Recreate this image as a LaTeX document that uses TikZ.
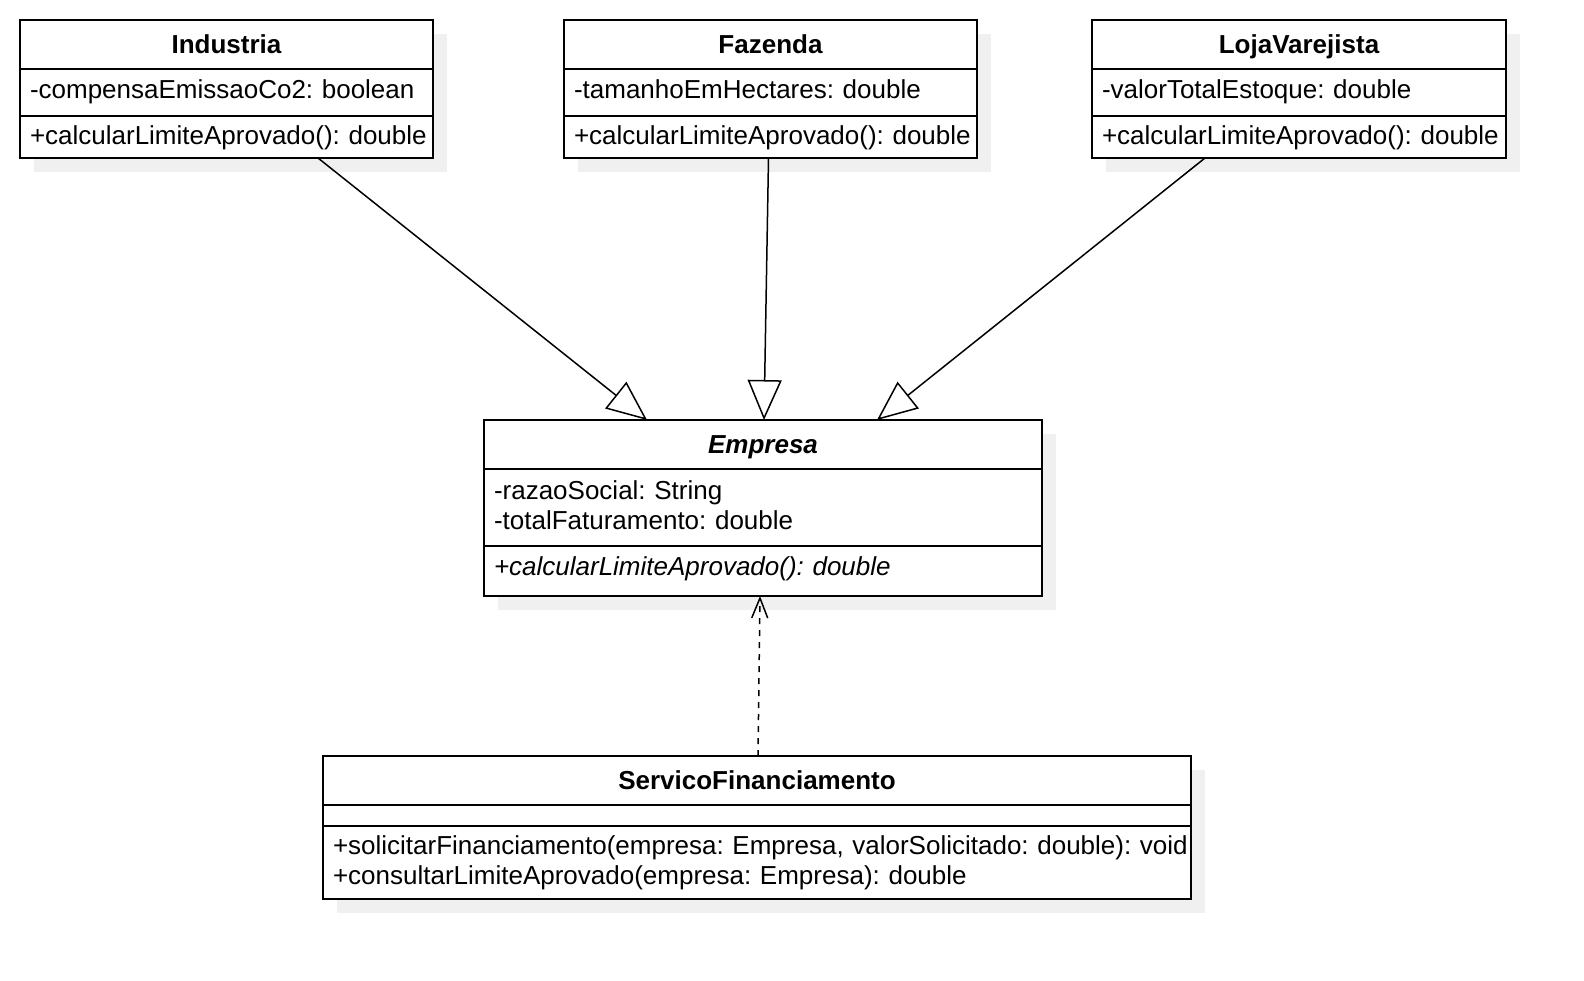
\documentclass[tikz,border=0pt]{standalone}
\usepackage{fontspec}
\setmainfont{Liberation Sans}
\usetikzlibrary{positioning,arrows.meta,shadows}

\definecolor{shadowgray}{RGB}{240,240,240}

\tikzset{
    classpart/.style={draw, line width=1pt, fill=white, outer sep=0pt,
        inner xsep=5pt, inner ysep=0pt,
        drop shadow={shadow xshift=7pt, shadow yshift=-7pt, fill=shadowgray, opacity=1},
        font=\fontsize{13}{15}\selectfont\frenchspacing},
    classname/.style={classpart, minimum width=#1, text height=16.5pt, text depth=8pt,
        font=\fontsize{13}{15}\selectfont\bfseries},
    classbody/.style={classpart, text width=#1, align=left},
    inherits/.style={line width=0.75pt, -{Triangle[open, length=20pt, width=17pt]}},
    uses/.style={line width=0.75pt, dash pattern=on 3pt off 3pt,
        -{Straight Barb[length=10pt, width=8pt]}}
}

\begin{document}
\frenchspacing
\begin{tikzpicture}[x=0.5pt, y=-0.5pt]
    \useasboundingbox (0,0) rectangle (1584,980);

    % subclasses
    \node[classname=206.5pt, anchor=north west] (indName) at (20,20) {Industria};
    \node[classbody=196.5pt, text height=14.5pt, text depth=9pt, below=0pt of indName] (indAttr) {\mbox{-compensaEmissaoCo2: boolean}};
    \node[classbody=196.5pt, text height=14pt, text depth=7pt, below=0pt of indAttr] (indOps) {\mbox{+calcularLimiteAprovado(): double}};

    \node[classname=206.5pt, anchor=north west] (fazName) at (564,20) {Fazenda};
    \node[classbody=196.5pt, text height=14.5pt, text depth=9pt, below=0pt of fazName] (fazAttr) {\mbox{-tamanhoEmHectares: double}};
    \node[classbody=196.5pt, text height=14pt, text depth=7pt, below=0pt of fazAttr] (fazOps) {\mbox{+calcularLimiteAprovado(): double}};

    \node[classname=207pt, anchor=north west] (lojaName) at (1092,20) {LojaVarejista};
    \node[classbody=197pt, text height=14.5pt, text depth=9pt, below=0pt of lojaName] (lojaAttr) {\mbox{-valorTotalEstoque: double}};
    \node[classbody=197pt, text height=14pt, text depth=7pt, below=0pt of lojaAttr] (lojaOps) {\mbox{+calcularLimiteAprovado(): double}};

    % abstract class
    \node[classname=279pt, anchor=north west] (empName) at (484,420) {\itshape Empresa};
    \node[classbody=269pt, text height=15pt, text depth=23.5pt, below=0pt of empName] (empAttr) {-razaoSocial: String\\-totalFaturamento: double};
    \node[classbody=269pt, text height=14.5pt, text depth=10.5pt, below=0pt of empAttr] (empOps) {\itshape +calcularLimiteAprovado(): double};

    % service
    \node[classname=434pt, anchor=north west] (servName) at (323,756) {ServicoFinanciamento};
    \node[classbody=424pt, text height=10.5pt, text depth=0pt, below=0pt of servName] (servAttr) {};
    \node[classbody=424pt, text height=14.25pt, text depth=22.25pt, below=0pt of servAttr] (servOps) {\mbox{+solicitarFinanciamento(empresa: Empresa, valorSolicitado: double): void}\\+consultarLimiteAprovado(empresa: Empresa): double};

    % generalization
    \draw[inherits] ([xshift=45.75pt]indOps.south) -- ([xshift=-58pt]empName.north);
    \draw[inherits] ([xshift=-1pt]fazOps.south) -- ([xshift=0.5pt]empName.north);
    \draw[inherits] ([xshift=-47pt]lojaOps.south) -- ([xshift=57pt]empName.north);

    % dependency
    \draw[uses] ([xshift=0.5pt]servName.north) -- ([xshift=-1.5pt]empOps.south);
\end{tikzpicture}
\end{document}
